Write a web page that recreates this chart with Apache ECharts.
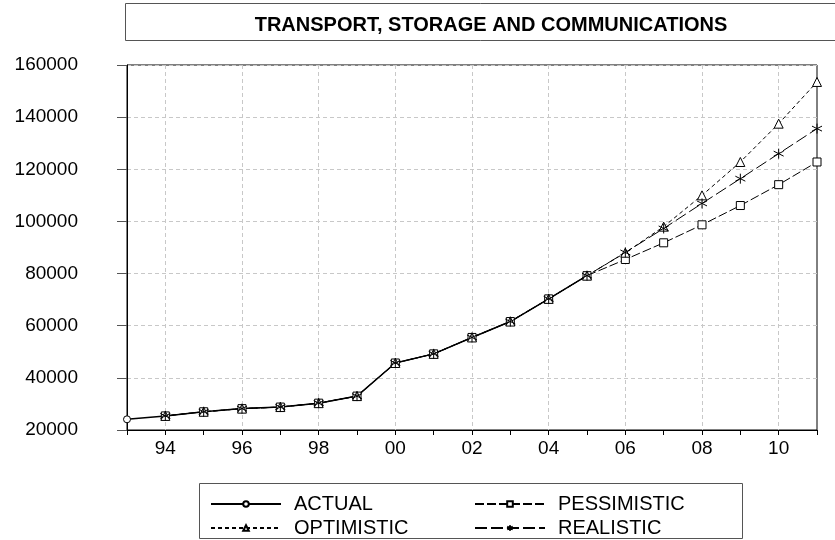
<!DOCTYPE html>
<html>
<head>
<meta charset="utf-8">
<script src="https://cdn.jsdelivr.net/npm/echarts@6/dist/echarts.min.js"></script>
<style>
  html, body { margin: 0; padding: 0; background: #fff; }
  #chart { width: 835px; height: 540px; }
</style>
</head>
<body>
<div id="chart"></div>
<script>
// years 1993..2011, shown as two digits
const years = ["93", "94", "95", "96", "97", "98", "99", "00", "01", "02", "03",
               "04", "05", "06", "07", "08", "09", "10", "11"]
const actual = [24100, 25400, 27000, 28200, 28800, 30300, 33000, 45700, 49200, 55500,
                61600, 70300, 79200]
const pessimistic = [null, 25400, 27000, 28200, 28800, 30300, 33000, 45700, 49200, 55500,
                     61600, 70300, 79200, 85400, 91800, 98700, 106100, 114100, 122800]
const optimistic = [null, 25400, 27000, 28200, 28800, 30300, 33000, 45700, 49200, 55500,
                    61600, 70300, 79200, 88000, 98000, 110000, 122800, 137500, 153500]
const realistic = [null, 25400, 27000, 28200, 28800, 30300, 33000, 45700, 49200, 55500,
                   61600, 70300, 79200, 88100, 97300, 106900, 116400, 126000, 135600]

const star = 'path://M0,-5L0,5M-4.33,-2.5L4.33,2.5M-4.33,2.5L4.33,-2.5'
const font = 'Liberation Sans, Arial, sans-serif'
const evenYear = (i) => i % 2 === 1

function line(name, data, symbol, type, size, width) {
    return {
        name: name,
        type: 'line',
        data: data,
        symbol: symbol,
        symbolSize: size,
        showAllSymbol: true,
        lineStyle: { color: '#000', width: width, type: type },
        itemStyle: { color: '#fff', borderColor: '#000', borderWidth: 1 },
        emphasis: { disabled: true },
    }
}

// one legend per item so the 2x2 layout is exact
function legendItem(name, left, top) {
    return {
        left: left, top: top, itemWidth: 70, itemHeight: 7,
        selectedMode: false, data: [name],
        textStyle: { fontSize: 20, color: '#000', fontFamily: font, padding: [0, 0, 0, 8] },
    }
}

const chart = echarts.init(document.getElementById('chart'))
chart.setOption({
    animation: false,
    textStyle: { fontFamily: font },
    title: {
        text: 'TRANSPORT, STORAGE AND COMMUNICATIONS',
        left: 486,
        top: 10,
        textAlign: 'center',
        textStyle: { fontSize: 20, fontWeight: 'bold', color: '#000', fontFamily: font },
    },
    graphic: [
        { type: 'rect', shape: { x: 125.5, y: 3.5, width: 720, height: 37 },
          style: { fill: 'none', stroke: '#555', lineWidth: 1 }, z: -1 },
        { type: 'rect', shape: { x: 199.5, y: 483.5, width: 543, height: 55 },
          style: { fill: 'none', stroke: '#555', lineWidth: 1 }, z: -1 },
    ],
    grid: { left: 127, right: 18, top: 65, bottom: 110, show: true, borderColor: '#000', borderWidth: 1 },
    legend: [
        legendItem('ACTUAL', 205, 489),
        legendItem('OPTIMISTIC', 205, 513),
        legendItem('PESSIMISTIC', 469, 489),
        legendItem('REALISTIC', 469, 513),
    ],
    xAxis: {
        type: 'category',
        data: years,
        boundaryGap: false,
        axisLine: { lineStyle: { color: '#000', width: 1 } },
        axisTick: { interval: 0, length: 5, lineStyle: { color: '#000' } },
        axisLabel: { interval: evenYear, color: '#000', fontSize: 19, margin: 9, fontFamily: font },
        splitLine: { show: true, interval: evenYear, lineStyle: { color: '#c8c8c8', type: [4, 3] } },
    },
    yAxis: {
        type: 'value',
        min: 20000,
        max: 160000,
        interval: 20000,
        axisLine: { show: true, lineStyle: { color: '#000', width: 1 } },
        axisTick: { show: true, length: 10, lineStyle: { color: '#555' } },
        axisLabel: { color: '#000', fontSize: 19, margin: 49, fontFamily: font, formatter: (v) => String(v) },
        splitLine: { show: true, lineStyle: { color: '#c8c8c8', type: [4, 3] } },
    },
    series: [
        line('ACTUAL', actual, 'circle', 'solid', 7, 1.5),
        line('PESSIMISTIC', pessimistic, 'rect', [9, 3], 8, 1),
        line('OPTIMISTIC', optimistic, 'triangle', [4, 3], 9, 1),
        line('REALISTIC', realistic, star, [12, 4], 10, 1),
    ],
})
</script>
</body>
</html>
